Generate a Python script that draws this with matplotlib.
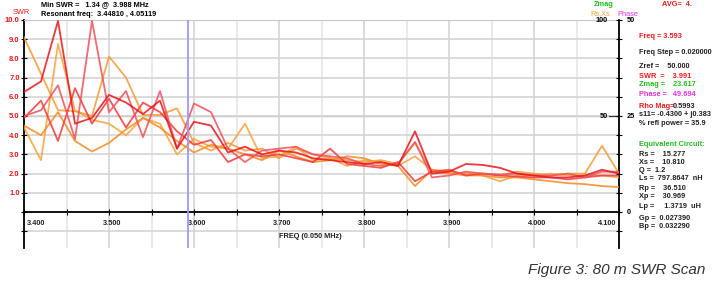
import numpy as np
import matplotlib.pyplot as plt

plt.rcParams['font.family'] = ['Liberation Sans', 'DejaVu Sans']

# sweep frequencies (MHz), step 0.02
freq = np.round(np.arange(3.40, 4.1001, 0.02), 3)

# SWR sweeps
swr_r1 = [6.25, 6.8, 9.95, 4.6, 4.9, 6.1, 5.7, 5.1, 5.8, 3.3, 4.7, 4.5, 3.1, 3.4, 3.0, 3.2, 3.1, 2.8,
          2.7, 2.6, 2.5, 2.6, 2.4, 4.2, 2.0, 2.1, 2.5, 2.45, 2.3, 2.0, 1.9, 1.8, 1.8, 1.9, 2.2, 2.0]
swr_r2 = [5.0, 5.3, 6.6, 3.8, 9.95, 5.2, 6.3, 3.9, 6.3, 3.3, 5.65, 5.2, 3.3, 2.6, 3.2, 3.3, 3.4, 3.0,
          2.9, 2.8, 2.5, 2.4, 2.5, 3.65, 1.8, 1.9, 2.1, 2.0, 1.95, 2.0, 1.9, 1.9, 2.0, 1.8, 2.1, 2.1]
swr_r3 = [4.9, 5.8, 3.7, 6.45, 4.6, 5.9, 4.4, 5.7, 5.2, 4.2, 3.5, 3.75, 2.6, 3.0, 2.9, 3.0, 2.8, 2.6,
          3.3, 2.5, 2.4, 2.3, 2.6, 1.6, 2.1, 2.2, 1.9, 2.0, 1.9, 1.85, 1.8, 1.8, 1.7, 1.8, 1.9, 1.9]
swr_o1 = [9.1, 7.2, 5.3, 5.25, 5.0, 8.1, 7.0, 5.05, 5.05, 5.4, 3.6, 3.2, 3.6, 3.2, 3.3, 2.8, 3.3, 3.0,
          2.8, 2.7, 2.6, 2.7, 2.5, 3.6, 2.1, 2.0, 2.0, 2.0, 1.9, 2.1, 2.0, 1.9, 2.0, 2.0, 3.45, 2.0]
swr_o2 = [4.4, 2.7, 8.75, 5.3, 4.8, 4.6, 4.0, 4.9, 4.6, 3.0, 3.8, 3.4, 3.3, 4.6, 2.8, 2.9, 3.4, 2.7,
          2.8, 2.4, 2.7, 2.6, 2.4, 2.9, 2.2, 2.0, 1.9, 1.9, 1.6, 1.9, 1.9, 2.0, 1.9, 1.9, 1.9, 1.8]
swr_o3 = [4.5, 4.0, 5.2, 3.7, 3.15, 3.6, 4.3, 4.9, 4.4, 3.7, 3.1, 3.5, 3.3, 3.0, 2.7, 3.2, 2.9, 2.6,
          2.7, 2.9, 2.8, 2.5, 2.4, 1.35, 2.2, 2.1, 2.0, 1.9, 1.8, 1.8, 1.7, 1.6, 1.5, 1.45, 1.35, 1.3]

sweeps = [swr_o2, swr_o3, swr_o1, swr_r3, swr_r2, swr_r1]
colors = ['#f7a23e', '#f58a1f', '#f59a35', '#f03a3a', '#f0505a', '#e8141c']

cursor_f = 3.593
x_ticks = [3.4, 3.5, 3.6, 3.7, 3.8, 3.9, 4.0, 4.1]
x_labels = ['3.400', '3.500', '3.600', '3.700', '3.800', '3.900', '4.000', '4.100']
y_ticks = list(range(-1, 11))
y_labels = ['', ''] + ['%.1f' % v for v in range(1, 11)]

fig = plt.figure(figsize=(7.13, 2.96), dpi=100)
ax = fig.add_axes([24 / 713, 1 - 248 / 296, 595 / 713, 228 / 296])
ax.set_xlim(3.4, 4.1)
ax.set_ylim(-1.875, 10)

# grid
ax.set_xticks(x_ticks)
ax.set_xticks(np.arange(3.45, 4.1, 0.1), minor=True)
ax.set_yticks(y_ticks)
ax.set_yticklabels(y_labels, color='#f01818', fontsize=5.5, fontweight='bold')
ax.set_xticklabels([])
ax.grid(which='major', color='#d4d4d4', lw=1.2)
ax.grid(which='minor', axis='x', color='#e6e6e6', lw=1.2)
ax.axhline(5, color='#b0b0b0', lw=1.0, zorder=1)

ax.tick_params(axis='y', direction='inout', length=4, width=0.8, pad=1)
ax.tick_params(axis='x', which='both', direction='inout', length=4, width=0.8)

for s in ['left', 'right']:
    ax.spines[s].set_color('black')
    ax.spines[s].set_linewidth(1.3)
ax.spines['top'].set_color('#c8c8c8')
ax.spines['bottom'].set_position(('data', 0))
ax.spines['bottom'].set_linewidth(1.3)

for vals, c in zip(sweeps, colors):
    ax.plot(freq, vals, color=c, lw=1.3, alpha=0.85, zorder=3)

ax.axvline(cursor_f, color='#9a9aff', lw=1.3, zorder=4)

# x tick labels, slightly offset like the analyser screen
for i, (f, lab) in enumerate(zip(x_ticks, x_labels)):
    off = 0.004
    if i == 0:
        off = 0.014
    if i == len(x_ticks) - 1:
        off = -0.014
    ax.text(f + off, -0.58, lab, ha='center', va='center', fontsize=5.3, fontweight='bold', color='#222222')
ax.text(3.70, -1.25, 'FREQ (0.050 MHz)', ha='left', va='center', fontsize=5.3, fontweight='bold', color='#222222')

# right axis (Zmag / phase scale)
ax2 = ax.twinx()
ax2.set_ylim(ax.get_ylim())
ax2.set_yticks(y_ticks)
ax2.set_yticklabels(['', '0', '', '', '', '', '25', '', '', '', '', '50'], fontsize=5.3, fontweight='bold')
ax2.tick_params(axis='y', direction='inout', length=5, width=0.8, pad=3)
for s in ax2.spines.values():
    s.set_visible(False)
ax.text(4.087, 10, '100', ha='right', va='center', fontsize=5.3, fontweight='bold')
ax.text(4.087, 5, '50', ha='right', va='center', fontsize=5.3, fontweight='bold')
ax.plot([4.088, 4.1], [5, 5], color='#333333', lw=0.8, clip_on=False)

# header texts
fs = 5.3
fig.text(41 / 713, 1 - 5 / 296, 'Min SWR =   1.34 @  3.988 MHz', fontsize=fs, fontweight='bold', va='center')
fig.text(41 / 713, 1 - 14 / 296, 'Resonant freq:  3.44810 , 4.05119', fontsize=fs, fontweight='bold', va='center')
fig.text(13 / 713, 1 - 13 / 296, 'SWR', fontsize=fs, color='#f01818', va='center')
fig.text(594 / 713, 1 - 5 / 296, 'Zmag', fontsize=fs, fontweight='bold', color='#22bb22', va='center')
fig.text(590 / 713, 1 - 14 / 296, 'Rs,Xs', fontsize=fs, color='#f59a35', va='center')
fig.text(617 / 713, 1 - 14 / 296, 'Phase', fontsize=fs, color='#dd33dd', va='center')
fig.text(662 / 713, 1 - 5 / 296, 'AVG=  4.', fontsize=fs, fontweight='bold', color='#f01818', va='center')

# readout panel
panel = [
    (37, 'Freq = 3.593', '#f01818'),
    (52, 'Freq Step = 0.020000', '#222222'),
    (66, 'Zref =    50.000', '#222222'),
    (77, 'SWR  =    3.991', '#f01818'),
    (85, 'Zmag =    23.617', '#22bb22'),
    (94, 'Phase =   49.694', '#dd33dd'),
    (115, 's11= -0.4300 + j0.383', '#222222'),
    (124, '% refl power = 35.9', '#222222'),
    (145, 'Equivalent Circuit:', '#22bb22'),
    (154, 'Rs =    15.277', '#222222'),
    (162, 'Xs =    10.810', '#222222'),
    (170, 'Q =  1.2', '#222222'),
    (179, 'Ls =  797.8647  nH', '#222222'),
    (189, 'Rp =    36.510', '#222222'),
    (197, 'Xp =    30.969', '#222222'),
    (206, 'Lp =     1.3719  uH', '#222222'),
    (218, 'Gp =  0.027390', '#222222'),
    (226, 'Bp =  0.032290', '#222222'),
]
for y, s, c in panel:
    fig.text(639 / 713, 1 - y / 296, s, fontsize=fs, fontweight='bold', color=c, va='center')
fig.text(639 / 713, 1 - 106 / 296, 'Rho Mag=', fontsize=fs, fontweight='bold', color='#f01818', va='center')
fig.text(673 / 713, 1 - 106 / 296, '0.5993', fontsize=fs, fontweight='bold', color='#222222', va='center')

fig.text(705 / 713, 1 - 270 / 296, 'Figure 3: 80 m SWR Scan', fontsize=11, style='italic',
         color='#333333', ha='right', va='center')

fig.savefig('out.png', dpi=100)
